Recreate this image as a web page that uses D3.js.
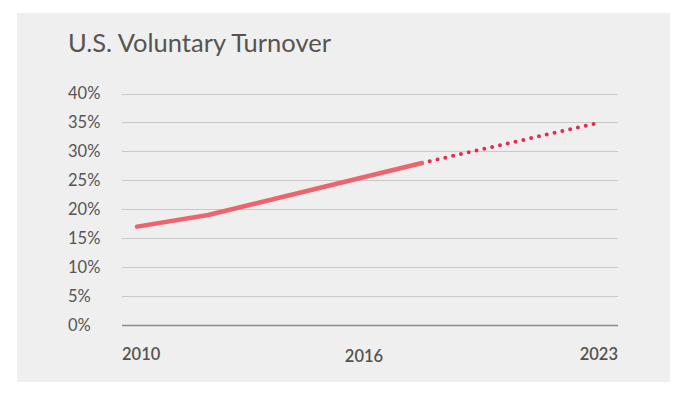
<!DOCTYPE html>
<html>
<head>
<meta charset="utf-8">
<script src="https://cdn.jsdelivr.net/npm/d3@7"></script>
<style>
  body { margin: 0; background: #fff; }
  svg text { font-family: Lato, "Open Sans", sans-serif; }
</style>
</head>
<body>
<div id="chart"></div>
<script>
// data
var title = 'U.S. Voluntary Turnover';
var actualYears = [2010, 2012, 2015, 2018];
var actualValues = [17, 19, 23.5, 28];
var projectedYears = [2018, 2023];
var projectedValues = [28, 35];
var yTicks = [0, 5, 10, 15, 20, 25, 30, 35, 40];
var xLabels = ['2010', '2016', '2023'];

var svgWidth = 688;
var svgHeight = 396;

function createSvg(parent, height, width) {
  return d3.select(parent)
           .append('svg')
           .attr('height', height)
           .attr('width', width);
}

var svg = createSvg('#chart', svgHeight, svgWidth);

// grey panel
svg.append('rect')
   .attr('x', 17).attr('y', 13)
   .attr('width', 653).attr('height', 369)
   .attr('fill', '#efefef');

svg.append('text')
   .attr('x', 68).attr('y', 52)
   .attr('font-size', 25.5)
   .attr('fill', '#58534f')
   .text(title);

var x = d3.scaleLinear().domain([2010, 2023]).range([137, 600]);
var y = d3.scaleLinear().domain([0, 40]).range([325, 93.5]);
var xLab = d3.scalePoint().domain(xLabels).range([122, 618]);

// gridlines
svg.selectAll('line.grid')
   .data(yTicks)
   .enter()
   .append('line')
   .attr('class', 'grid')
   .attr('x1', 122).attr('x2', 618)
   .attr('y1', function (d) { return Math.round(y(d)) + 0.5; })
   .attr('y2', function (d) { return Math.round(y(d)) + 0.5; })
   .attr('stroke', function (d) { return d === 0 ? '#8a8a8a' : '#c9c9c9'; })
   .attr('stroke-width', function (d) { return d === 0 ? 1.5 : 1; });

// y labels
svg.selectAll('text.ytick')
   .data(yTicks)
   .enter()
   .append('text')
   .attr('class', 'ytick')
   .attr('x', 68)
   .attr('y', function (d) { return y(d); })
   .attr('dy', '0.36em')
   .attr('font-size', 16.5)
   .attr('font-weight', 400)
   .attr('fill', '#555')
   .text(function (d) { return d + '%'; });

// x labels
svg.selectAll('text.xtick')
   .data(xLabels)
   .enter()
   .append('text')
   .attr('class', 'xtick')
   .attr('x', function (d, i) { return xLab(d) + (i === 1 ? -6 : 0); })
   .attr('y', function (d, i) { return i === 1 ? 362 : 360; })
   .attr('text-anchor', function (d, i) { return ['start', 'middle', 'end'][i]; })
   .attr('font-size', 16.5)
   .attr('font-weight', 600)
   .attr('fill', '#555250')
   .text(function (d) { return d; });

var line = d3.line()
  .x(function (d) { return x(d[0]); })
  .y(function (d) { return y(d[1]); });

// projection (dotted)
svg.append('path')
   .datum(d3.zip(projectedYears, projectedValues))
   .attr('d', line)
   .attr('fill', 'none')
   .attr('stroke', '#e62b52')
   .attr('stroke-width', 4)
   .attr('stroke-linecap', 'round')
   .attr('stroke-dasharray', '0 8')
   .attr('stroke-dashoffset', -8);

// actual (solid)
svg.append('path')
   .datum(d3.zip(actualYears, actualValues))
   .attr('d', line)
   .attr('fill', 'none')
   .attr('stroke', '#ee646e')
   .attr('stroke-width', 4.5)
   .attr('stroke-linecap', 'round')
   .attr('stroke-linejoin', 'round');
</script>
</body>
</html>
